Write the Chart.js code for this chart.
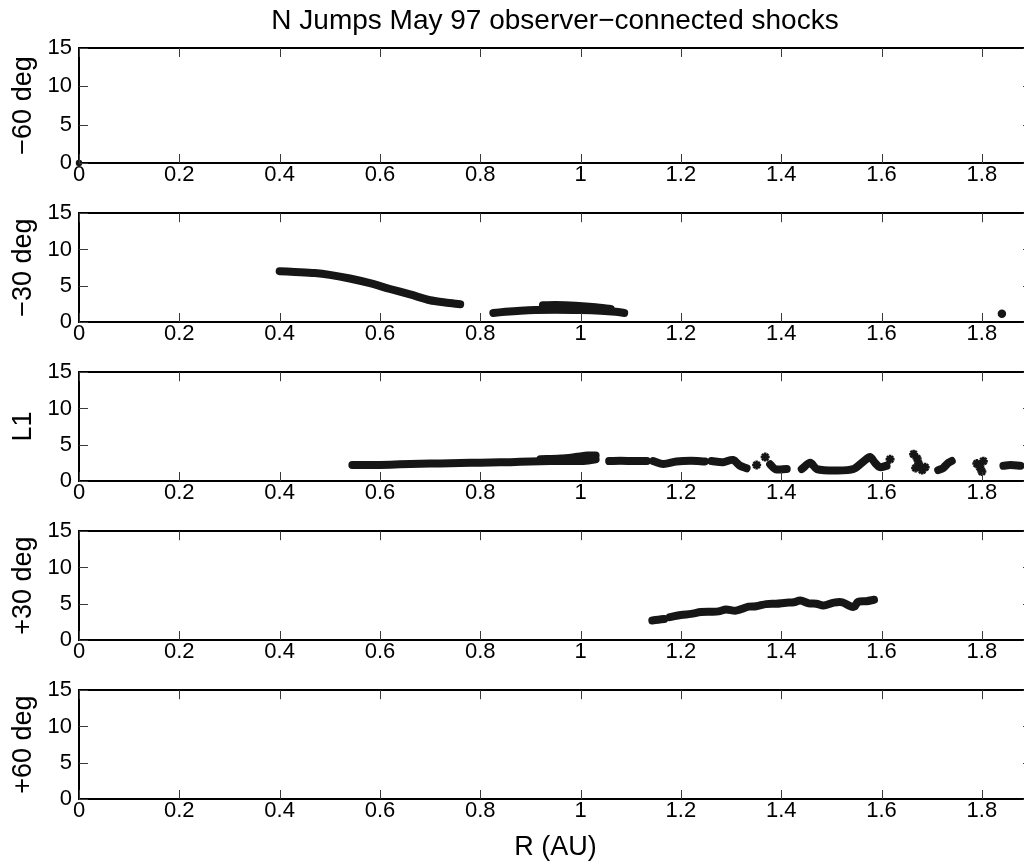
<!DOCTYPE html>
<html>
<head>
<meta charset="utf-8">
<title>N Jumps May 97 observer−connected shocks</title>
<script src="https://cdn.jsdelivr.net/npm/chart.js@4.4.1/dist/chart.umd.min.js"></script>
<style>
  html, body { margin: 0; padding: 0; background: #fff; overflow: hidden; }
  .panel { position: absolute; left: 0; }
</style>
</head>
<body>
<canvas id="p0" class="panel"></canvas>
<canvas id="p1" class="panel"></canvas>
<canvas id="p2" class="panel"></canvas>
<canvas id="p3" class="panel"></canvas>
<canvas id="p4" class="panel"></canvas>
<script>
// ============= DATA =============
const chartTitle = 'N Jumps May 97 observer−connected shocks';
const xLabel = 'R (AU)';
const panelLabels = ['−60 deg', '−30 deg', 'L1', '+30 deg', '+60 deg'];
const xTicks = [0, 0.2, 0.4, 0.6, 0.8, 1, 1.2, 1.4, 1.6, 1.8];
const yTicks = [0, 5, 10, 15];

// -60 deg: one mark at the origin
const m60DotR = [0];
const m60DotN = [0];

// -30 deg
const m30aR = [0.40, 0.43, 0.47, 0.50, 0.54, 0.58, 0.62, 0.66, 0.70, 0.73, 0.76];
const m30aN = [7.0, 6.9, 6.75, 6.5, 6.0, 5.35, 4.55, 3.8, 3.0, 2.7, 2.45];
const m30bR = [0.826, 0.85, 0.88, 0.91, 0.95, 1.0, 1.04, 1.07, 1.087];
const m30bN = [1.25, 1.4, 1.55, 1.65, 1.7, 1.65, 1.55, 1.4, 1.25];
const m30cR = [0.925, 0.95, 0.99, 1.03, 1.06];
const m30cN = [2.3, 2.35, 2.25, 2.05, 1.8];
const m30OddR = [1.84];
const m30OddN = [1.15];

// L1
const l1aR = [0.545, 0.58, 0.62, 0.66, 0.70, 0.74, 0.78, 0.82, 0.86, 0.90, 0.94, 0.98, 1.01, 1.03];
const l1aN = [2.2, 2.2, 2.25, 2.35, 2.4, 2.45, 2.5, 2.55, 2.6, 2.7, 2.75, 2.75, 2.8, 3.0];
const l1bR = [0.92, 0.96, 0.99, 1.015, 1.03];
const l1bN = [3.0, 3.1, 3.3, 3.5, 3.5];
const l1cR = [1.057, 1.08, 1.105, 1.132];
const l1cN = [2.75, 2.8, 2.75, 2.75];
const l1dR = [1.145, 1.165, 1.191, 1.22, 1.248];
const l1dN = [2.75, 2.35, 2.7, 2.8, 2.7];
const l1eR = [1.261, 1.284, 1.304, 1.318, 1.331];
const l1eN = [2.75, 2.6, 2.9, 2.1, 1.75];
const l1fR = [1.378, 1.388, 1.411];
const l1fN = [2.3, 1.65, 1.65];
const l1gR = [1.441, 1.458, 1.471, 1.511, 1.544, 1.564, 1.577, 1.587, 1.597, 1.61];
const l1gN = [1.65, 2.5, 1.65, 1.45, 1.65, 2.7, 3.3, 2.5, 1.9, 2.1];
const l1hR = [1.713, 1.723, 1.733, 1.74];
const l1hN = [1.5, 1.8, 2.5, 2.75];
const l1iR = [1.843, 1.857, 1.877];
const l1iN = [2.1, 2.2, 2.1];
const l1StarR = [1.351, 1.368, 1.617, 1.664, 1.671, 1.674, 1.668, 1.681, 1.687, 1.790, 1.803, 1.796, 1.800];
const l1StarN = [2.2, 3.3, 3.0, 3.7, 3.1, 2.4, 1.8, 1.5, 1.9, 2.4, 2.74, 1.9, 1.3];

// +30 deg
const p30aR = [1.143, 1.155, 1.167];
const p30aN = [2.7, 2.8, 2.9];
const p30bR = [1.178, 1.20, 1.22, 1.24, 1.26, 1.275, 1.29, 1.31, 1.335, 1.35, 1.37, 1.39, 1.41,
               1.425, 1.438, 1.455, 1.47, 1.484, 1.505, 1.522, 1.538, 1.546, 1.553, 1.57, 1.585];
const p30bN = [3.15, 3.45, 3.6, 3.85, 3.9, 3.95, 4.2, 4.05, 4.6, 4.65, 4.95, 5.0, 5.15,
               5.2, 5.45, 5.05, 5.0, 4.75, 5.15, 5.2, 4.65, 4.6, 5.25, 5.35, 5.55];

// ============= STYLE / LAYOUT =============
const ink = '#161616';
const family = "'Liberation Sans', Arimo, Arial, Helvetica, sans-serif";
const CANVAS_W = 1110;       // wider than the window: right edge of the axes is cut off
const AXIS_LEFT = 79;
const AXIS_RIGHT = 1032;
const TICK_LEN = 9;
const panelTop = [48, 207, 366, 525, 684];
const plotH = 115;

function pts(r, n) {
  return r.map(function(v, i) { return { x: v, y: n[i] }; });
}

function track(r, n) {
  return {
    data: pts(r, n),
    showLine: true,
    borderColor: ink,
    borderWidth: 8,
    borderCapStyle: 'round',
    borderJoinStyle: 'round',
    tension: 0.3,
    pointRadius: 0,
    clip: false
  };
}

function marks(r, n, style, radius) {
  return {
    data: pts(r, n),
    showLine: false,
    pointStyle: style,
    pointRadius: radius,
    pointBorderWidth: 2.5,
    borderColor: ink,
    backgroundColor: ink,
    pointBorderColor: ink,
    pointBackgroundColor: ink,
    clip: false
  };
}

const panelData = [
  [marks(m60DotR, m60DotN, 'circle', 2)],
  [track(m30aR, m30aN), track(m30bR, m30bN), track(m30cR, m30cN), marks(m30OddR, m30OddN, 'circle', 3)],
  [track(l1aR, l1aN), track(l1bR, l1bN), track(l1cR, l1cN), track(l1dR, l1dN), track(l1eR, l1eN),
   track(l1fR, l1fN), track(l1gR, l1gN), track(l1hR, l1hN), track(l1iR, l1iN),
   marks(l1StarR, l1StarN, 'star', 4.5)],
  [track(p30aR, p30aN), track(p30bR, p30bN)],
  []
];

function setTicks(list) {
  return function(scale) {
    scale.ticks = list.map(function(v) { return { value: v }; });
  };
}

// inward tick marks on all four sides (MATLAB style)
const inwardTicks = {
  id: 'inwardTicks',
  afterDraw: function(chart) {
    const ctx = chart.ctx;
    const area = chart.chartArea;
    const xs = chart.scales.x;
    const ys = chart.scales.y;
    ctx.save();
    ctx.strokeStyle = '#3a3a3a';
    ctx.lineWidth = 1;
    ctx.beginPath();
    xTicks.forEach(function(v) {
      const px = Math.round(xs.getPixelForValue(v)) + 0.5;
      ctx.moveTo(px, area.bottom);
      ctx.lineTo(px, area.bottom - TICK_LEN);
      ctx.moveTo(px, area.top);
      ctx.lineTo(px, area.top + TICK_LEN);
    });
    yTicks.forEach(function(v) {
      const py = Math.round(ys.getPixelForValue(v)) + 0.5;
      ctx.moveTo(area.left, py);
      ctx.lineTo(area.left + TICK_LEN, py);
      ctx.moveTo(area.right, py);
      ctx.lineTo(area.right - TICK_LEN, py);
    });
    ctx.stroke();
    ctx.restore();
  }
};

// ============= PANELS =============
function makePanel(i) {
  const first = i === 0;
  const last = i === 4;
  const top = first ? 0 : panelTop[i] - 14;
  const height = first ? panelTop[0] + plotH + 30 : (last ? 861 - top : 159);
  const xHeight = last ? 62 : 30;

  const canvas = document.getElementById('p' + i);
  canvas.width = CANVAS_W;
  canvas.height = height;
  canvas.style.top = top + 'px';

  const noGrid = { display: false, drawTicks: false };
  const frame = { display: true, color: '#000', width: 2 };
  const tickFont = { family: family, size: 22 };

  new Chart(canvas, {
    type: 'scatter',
    data: { datasets: panelData[i] },
    plugins: [inwardTicks],
    options: {
      responsive: false,
      animation: false,
      events: [],
      layout: { autoPadding: false, padding: { top: first ? 0 : 14, left: 0, right: 0, bottom: 0 } },
      plugins: {
        legend: { display: false },
        tooltip: { enabled: false },
        title: {
          display: first,
          text: chartTitle,
          color: '#000',
          font: { family: family, size: 28, weight: 'normal', lineHeight: 1 },
          padding: { top: 7, bottom: 13 }
        }
      },
      scales: {
        x: {
          type: 'linear', position: 'bottom', min: 0, max: 1.9,
          afterBuildTicks: setTicks(xTicks),
          afterFit: function(s) { s.height = xHeight; },
          grid: noGrid, border: frame,
          ticks: { color: '#000', font: tickFont, padding: -1, maxRotation: 0, autoSkip: false,
                   callback: function(v) { return String(v); } },
          title: { display: last, text: xLabel, color: '#000',
                   font: { family: family, size: 27, lineHeight: 1 }, padding: { top: 0, bottom: 0 } }
        },
        xTop: {
          type: 'linear', position: 'top', min: 0, max: 1.9,
          afterFit: function(s) { s.height = 0; },
          grid: noGrid, border: frame,
          ticks: { display: false }
        },
        y: {
          type: 'linear', position: 'left', min: 0, max: 15,
          afterBuildTicks: setTicks(yTicks),
          afterFit: function(s) { s.width = AXIS_LEFT; },
          grid: noGrid, border: frame,
          ticks: { color: '#000', font: tickFont, padding: 7, autoSkip: false,
                   callback: function(v) { return String(v); } },
          title: { display: true, text: panelLabels[i], color: '#000',
                   font: { family: family, size: 27, lineHeight: 1 }, padding: { top: 10, bottom: 0 } }
        },
        yRight: {
          type: 'linear', position: 'right', min: 0, max: 15,
          afterFit: function(s) { s.width = CANVAS_W - AXIS_RIGHT; },
          grid: noGrid, border: frame,
          ticks: { display: false }
        }
      }
    }
  });
}

for (let i = 0; i < 5; i++) makePanel(i);
</script>
</body>
</html>
